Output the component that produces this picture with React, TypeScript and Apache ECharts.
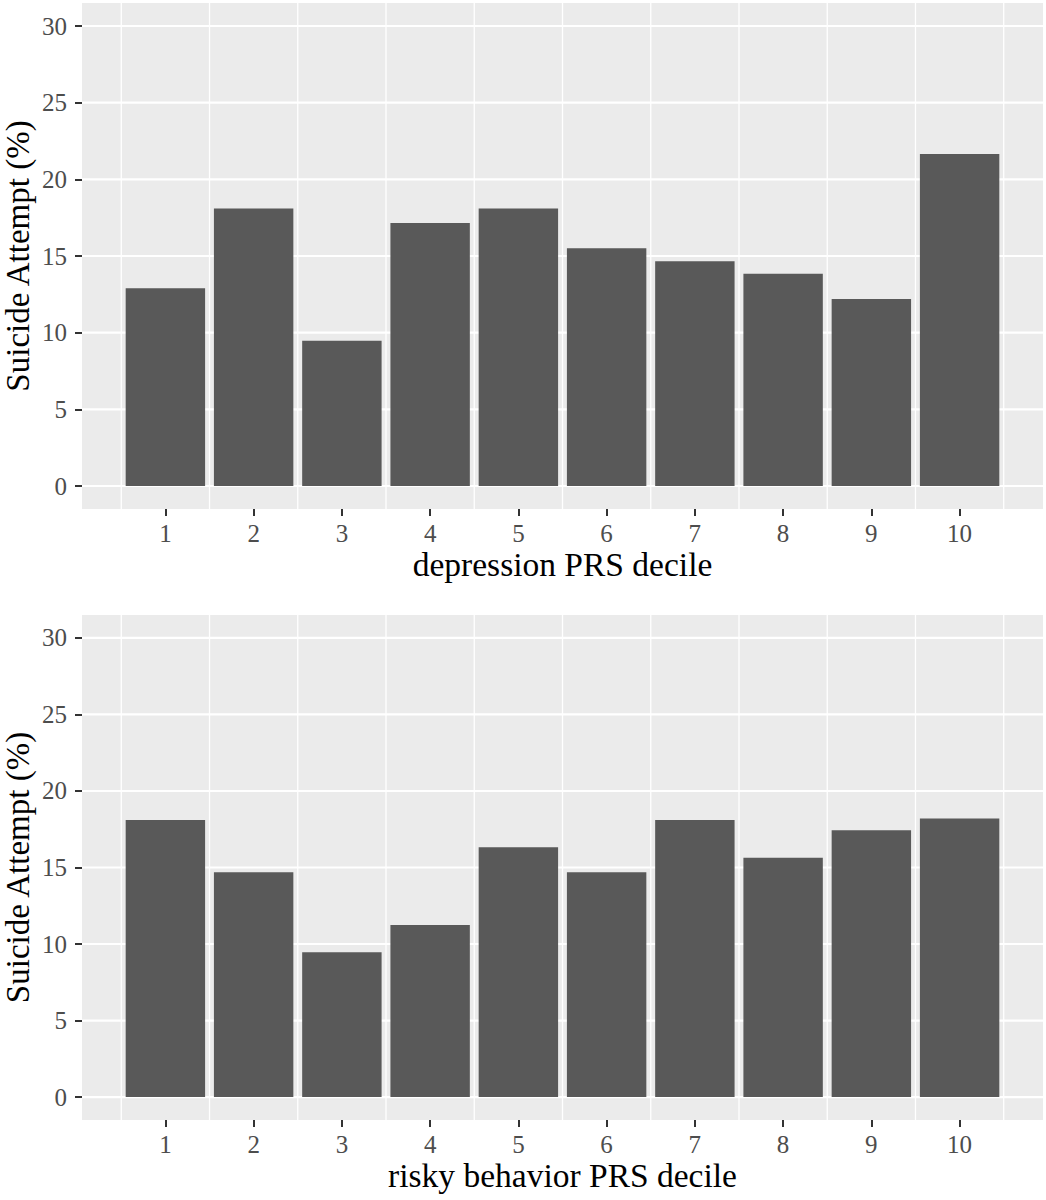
import React, { useEffect, useRef } from "react";
import * as echarts from "echarts";

const categories = [1, 2, 3, 4, 5, 6, 7, 8, 9, 10];
const depressionValues = [12.9, 18.1, 9.48, 17.15, 18.1, 15.5, 14.66, 13.85, 12.2, 21.65];
const riskyValues = [18.1, 14.69, 9.46, 11.25, 16.32, 14.69, 18.1, 15.64, 17.43, 18.21];
const yTicks = [0, 5, 10, 15, 20, 25, 30];
const xTitles = ["depression PRS decile", "risky behavior PRS decile"];
const yTitle = "Suicide Attempt (%)";

const FONT = "Liberation Serif";
const BAR_W = 0.9;

export default function App() {
  const ref = useRef<HTMLDivElement>(null);
  useEffect(() => {
    if (!ref.current) return;
    const chart = echarts.init(ref.current, null, { renderer: "svg" });

    const xLo = categories[0] - BAR_W / 2;
    const xHi = categories[categories.length - 1] + BAR_W / 2;
    const xPad = (xHi - xLo) * 0.05;
    const xMin = xLo - xPad;
    const xMax = xHi + xPad;
    const yLo = yTicks[0];
    const yHi = yTicks[yTicks.length - 1];
    const yPad = (yHi - yLo) * 0.05;
    const yMin = yLo - yPad;
    const yMax = yHi + yPad;

    const vLines = [...categories.map((c) => c - 0.5), categories[categories.length - 1] + 0.5];

    const grids = [
      { left: 82, top: 3, width: 961, height: 506 },
      { left: 82, top: 615, width: 961, height: 505 },
    ];
    const datasets = [depressionValues, riskyValues];

    const xAxis: any[] = [];
    const yAxis: any[] = [];
    const series: any[] = [];

    grids.forEach((g, i) => {
      xAxis.push({
        type: "value",
        gridIndex: i,
        position: "bottom",
        min: xMin,
        max: xMax,
        name: xTitles[i],
        nameLocation: "middle",
        nameGap: 38,
        nameTextStyle: { fontFamily: FONT, fontSize: 33.5, color: "#000" },
        axisLine: { show: false, onZero: false },
        splitLine: { show: false },
        axisTick: {
          show: true,
          length: 7,
          customValues: categories,
          lineStyle: { color: "#333333", width: 2 },
        },
        axisLabel: {
          show: true,
          customValues: categories,
          fontFamily: FONT,
          fontSize: 25,
          color: "#4D4D4D",
          margin: 12,
          formatter: (v: number) => String(Math.round(v)),
        },
      });
      yAxis.push({
        type: "value",
        gridIndex: i,
        position: "left",
        min: yMin,
        max: yMax,
        name: yTitle,
        nameLocation: "middle",
        nameGap: 47,
        nameMoveOverlap: false,
        nameTextStyle: { fontFamily: FONT, fontSize: 33, lineHeight: 34, color: "#000" },
        axisLine: { show: false, onZero: false },
        splitLine: { show: false },
        axisTick: {
          show: true,
          length: 7,
          customValues: yTicks,
          lineStyle: { color: "#333333", width: 2 },
        },
        axisLabel: {
          show: true,
          customValues: yTicks,
          fontFamily: FONT,
          fontSize: 25,
          color: "#4D4D4D",
          margin: 15,
          formatter: (v: number) => String(Math.round(v)),
        },
      });
      // vertical grid lines
      series.push({
        type: "custom",
        xAxisIndex: i,
        yAxisIndex: i,
        silent: true,
        z: 1,
        data: vLines.map((v) => [v, 0]),
        renderItem: (params: any, api: any) => {
          const cs = params.coordSys;
          const x = api.coord([api.value(0), 0])[0];
          return {
            type: "line",
            shape: { x1: x, y1: cs.y, x2: x, y2: cs.y + cs.height },
            style: { stroke: "#FFFFFF", lineWidth: 1.3 },
          };
        },
      });
      // horizontal grid lines
      series.push({
        type: "custom",
        xAxisIndex: i,
        yAxisIndex: i,
        silent: true,
        z: 1,
        data: yTicks.map((v) => [categories[0], v]),
        renderItem: (params: any, api: any) => {
          const cs = params.coordSys;
          const y = api.coord([api.value(0), api.value(1)])[1];
          return {
            type: "line",
            shape: { x1: cs.x, y1: y, x2: cs.x + cs.width, y2: y },
            style: { stroke: "#FFFFFF", lineWidth: 2.2 },
          };
        },
      });
      // bars
      series.push({
        type: "custom",
        xAxisIndex: i,
        yAxisIndex: i,
        silent: true,
        z: 2,
        data: categories.map((c, k) => [c, datasets[i][k]]),
        renderItem: (params: any, api: any) => {
          const x = api.value(0);
          const y = api.value(1);
          const p1 = api.coord([x - BAR_W / 2, y]);
          const p2 = api.coord([x + BAR_W / 2, 0]);
          return {
            type: "rect",
            shape: { x: p1[0], y: p1[1], width: p2[0] - p1[0], height: p2[1] - p1[1] },
            style: { fill: "#595959" },
          };
        },
      });
    });

    chart.setOption({
      animation: false,
      backgroundColor: "#FFFFFF",
      grid: grids.map((g) => ({
        ...g,
        show: true,
        backgroundColor: "#EBEBEB",
        borderWidth: 0,
        containLabel: false,
        outerBoundsMode: "none",
      })),
      xAxis,
      yAxis,
      series,
    });
    return () => chart.dispose();
  }, []);
  return (
    <div
      ref={ref}
      style={{ position: "absolute", left: 0, top: 0, width: 1046, height: 1200 }}
    />
  );
}
